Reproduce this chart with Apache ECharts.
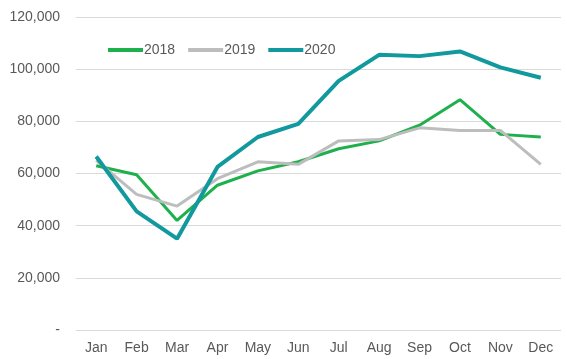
<!DOCTYPE html>
<html><head><meta charset="utf-8">
<script src="https://cdn.jsdelivr.net/npm/echarts@6/dist/echarts.min.js"></script>
<style>html,body{margin:0;padding:0;background:#fff}#c{width:567px;height:359px}</style>
</head><body><div id="c"></div>
<script>
const months = ['Jan','Feb','Mar','Apr','May','Jun','Jul','Aug','Sep','Oct','Nov','Dec'];
const s2018 = [63000,59500,42000,55500,61000,64500,69500,72500,78500,88300,75000,74000];
const s2019 = [65000,52000,47500,58000,64500,63500,72500,73000,77500,76500,76500,63500];
const s2020 = [66500,45500,35000,62500,74000,79000,95500,105500,105000,106800,100700,96700];
const yTicks = [0,20000,40000,60000,80000,100000,120000];
const chart = echarts.init(document.getElementById('c'));
const font = '"Liberation Sans", Arial, sans-serif';
function mk(name, data, color, width){
  return {name, type:'line', data, showSymbol:false, symbol:'none', lineStyle:{color, width}, itemStyle:{color}, animation:false};
}
chart.setOption({
  animation:false,
  grid:{left:76, right:6, top:17, bottom:29, containLabel:false},
  legend:{
    top:38, left:103, itemWidth:35, itemHeight:4, itemGap:13, icon:'rect',
    textStyle:{fontFamily:font, fontSize:14, color:'#595959', padding:[0,0,0,-4]},
    data:['2018','2019','2020']
  },
  xAxis:{type:'category', data:months, boundaryGap:true,
    axisLine:{show:false}, axisTick:{show:false},
    axisLabel:{fontFamily:font, fontSize:14, color:'#595959', margin:11}},
  yAxis:{type:'value', min:0, max:120000, interval:20000,
    axisLine:{show:false}, axisTick:{show:false},
    splitLine:{lineStyle:{color:'#d9d9d9', width:1}},
    axisLabel:{fontFamily:font, fontSize:14, color:'#595959', margin:16,
      formatter:v => v===0 ? '-' : v.toLocaleString('en-US')}},
  series:[mk('2018', s2018, '#1db04d', 3), mk('2019', s2019, '#bdbdbd', 3), mk('2020', s2020, '#11999e', 4)]
});
</script></body></html>
